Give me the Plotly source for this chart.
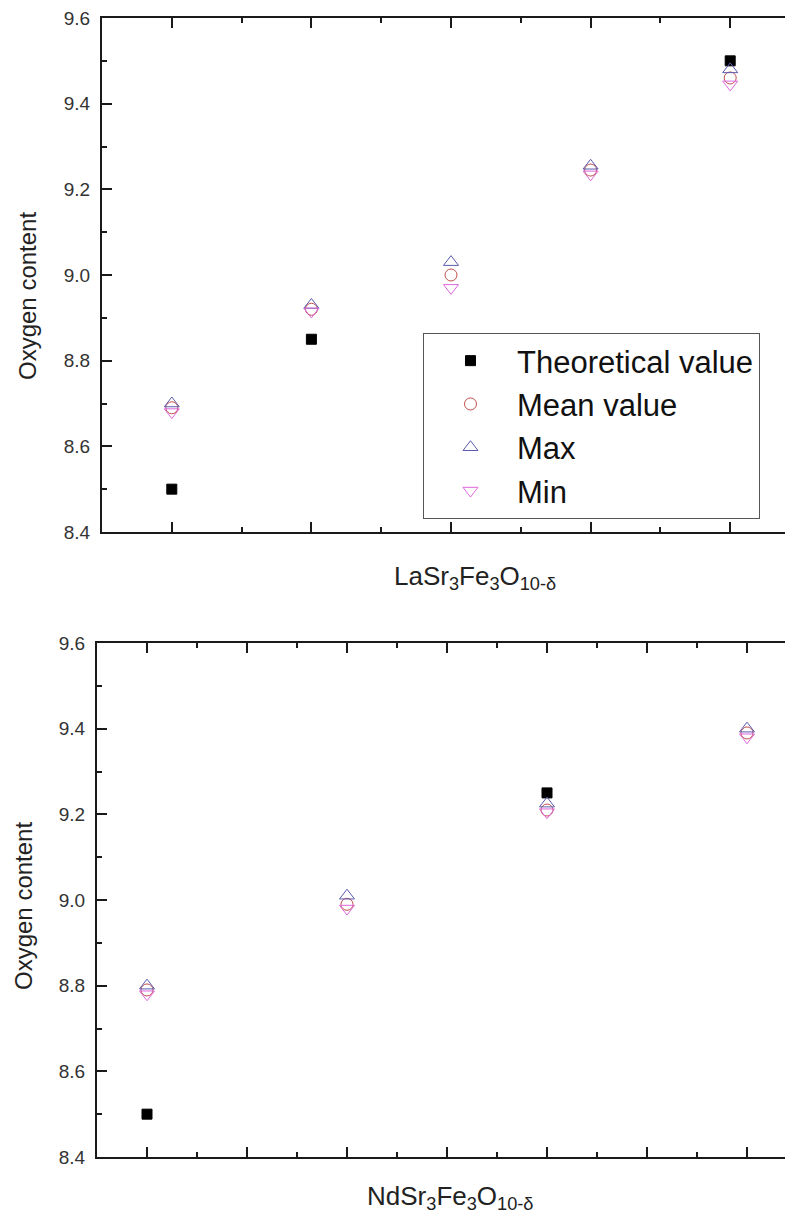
import plotly.graph_objects as go

# ---- data ----
la_pos = [1, 2, 3, 4, 5]
la_theoretical = [8.50, 8.85, None, None, 9.50]
la_mean = [8.69, 8.92, 9.00, 9.245, 9.46]
la_max = [8.70, 8.93, 9.03, 9.255, 9.48]
la_min = [8.68, 8.915, 8.97, 9.235, 9.445]

nd_pos = [1, 3, 5, 7]
nd_theoretical = [8.50, None, 9.25, None]
nd_mean = [8.79, 8.99, 9.21, 9.39]
nd_max = [8.80, 9.01, 9.225, 9.40]
nd_min = [8.78, 8.98, 9.205, 9.38]

y_ticks = [8.4, 8.6, 8.8, 9.0, 9.2, 9.4, 9.6]
y_ticktext = ["8.4", "8.6", "8.8", "9.0", "9.2", "9.4", "9.6"]

names = ["Theoretical value", "Mean value", "Max", "Min"]
symbols = ["square", "circle-open", "triangle-up-open", "triangle-down-open"]
colors = ["#000000", "#c0504d", "#5a5aae", "#dd66dd"]
sizes = [10, 12, 13, 13]

la_title = "LaSr<sub>3</sub>Fe<sub>3</sub>O<sub>10-δ</sub>"
nd_title = "NdSr<sub>3</sub>Fe<sub>3</sub>O<sub>10-δ</sub>"
y_title = "Oxygen content"

FONT = "Liberation Sans, Arial, sans-serif"
W, H = 792, 1216
OFF = 8  # page body margin


def px(sx):
    return (sx - OFF) / W


def py(sy):
    return 1 - (sy - OFF) / H


fig = go.Figure()

for i, (nm, sym, col, sz) in enumerate(zip(names, symbols, colors, sizes)):
    ys = [la_theoretical, la_mean, la_max, la_min][i]
    fig.add_trace(go.Scatter(x=la_pos, y=ys, mode="markers", name=nm,
                             marker=dict(symbol=sym, color=col, size=sz,
                                         line=dict(color=col, width=1)),
                             xaxis="x", yaxis="y", showlegend=True))
for i, (nm, sym, col, sz) in enumerate(zip(names, symbols, colors, sizes)):
    ys = [nd_theoretical, nd_mean, nd_max, nd_min][i]
    fig.add_trace(go.Scatter(x=nd_pos, y=ys, mode="markers", name=nm,
                             marker=dict(symbol=sym, color=col, size=sz,
                                         line=dict(color=col, width=1)),
                             xaxis="x2", yaxis="y2", showlegend=False))

axis_line = dict(showline=True, linecolor="#1a1a1a", linewidth=2,
                 ticks="inside", ticklen=10, tickwidth=2, tickcolor="#1a1a1a",
                 showgrid=False, zeroline=False, automargin=False, mirror="ticks")
minor_x = dict(dtick=0.5, tick0=0.5, ticks="inside", ticklen=5,
               tickwidth=2, tickcolor="#1a1a1a")
minor_y = dict(dtick=0.1, tick0=8.4, ticks="inside", ticklen=5,
               tickwidth=2, tickcolor="#1a1a1a")

tick_font = dict(size=19, family=FONT, color="#333")
title_font = dict(size=24, family=FONT, color="#222")
xt_font = dict(size=26, family=FONT, color="#222")

fig.update_layout(
    width=W, height=H,
    margin=dict(l=0, r=0, t=0, b=0, autoexpand=False),
    paper_bgcolor="white", plot_bgcolor="white",
    font=dict(family=FONT, color="#222"),
    xaxis=dict(**axis_line, domain=[px(102), 1.0], range=[0.5, 5.5],
               tickvals=la_pos, showticklabels=False, minor=minor_x, anchor="y"),
    yaxis=dict(**axis_line, domain=[py(532), py(18)], range=[8.4, 9.6],
               tickvals=y_ticks, ticktext=y_ticktext, ticklabeloverflow="allow",
               tickfont=tick_font, ticklabelstandoff=6, minor=minor_y, anchor="x"),
    xaxis2=dict(**axis_line, domain=[px(97), 1.0], range=[0.5, 7.53],
                tickvals=[1, 2, 3, 4, 5, 6, 7], showticklabels=False,
                minor=minor_x, anchor="y2"),
    yaxis2=dict(**axis_line, domain=[py(1157), py(643)], range=[8.4, 9.6],
                tickvals=y_ticks, ticktext=y_ticktext, ticklabeloverflow="allow",
                tickfont=tick_font, ticklabelstandoff=6, minor=minor_y, anchor="x2"),
    legend=dict(x=px(423), y=py(333), xanchor="left", yanchor="top",
                bordercolor="#555", borderwidth=1, bgcolor="white",
                font=dict(size=31, family=FONT, color="#111"),
                itemwidth=83, tracegroupgap=0),
    annotations=[
        dict(text=la_title, xref="paper", yref="paper", x=px(475), y=py(577),
             xanchor="center", yanchor="middle", showarrow=False, font=xt_font),
        dict(text=nd_title, xref="paper", yref="paper", x=px(450), y=py(1197),
             xanchor="center", yanchor="middle", showarrow=False, font=xt_font),
        dict(text=y_title, xref="paper", yref="paper", x=px(28), y=py(296),
             xanchor="center", yanchor="middle", textangle=-90, showarrow=False,
             font=title_font),
        dict(text=y_title, xref="paper", yref="paper", x=px(23), y=py(906),
             xanchor="center", yanchor="middle", textangle=-90, showarrow=False,
             font=title_font),
    ],
)

fig.write_html("out.html")
